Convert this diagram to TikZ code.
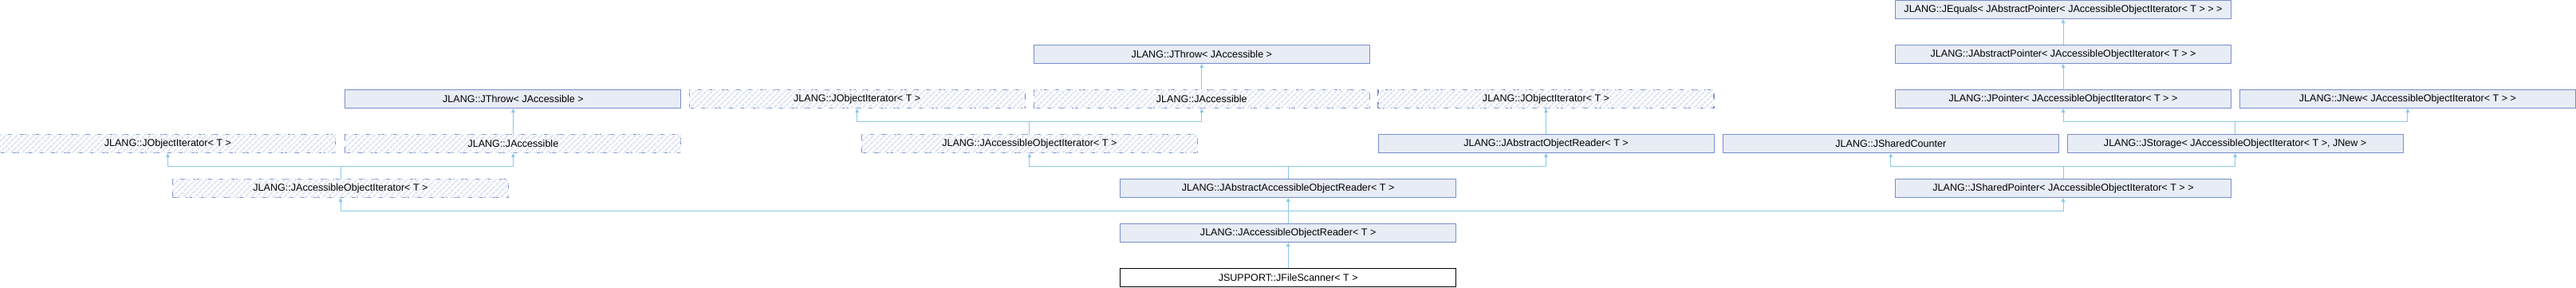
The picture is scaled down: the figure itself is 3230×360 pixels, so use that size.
\documentclass[tikz,border=0pt]{standalone}
\usepackage{fontspec}
\setmainfont{Liberation Sans}
\usetikzlibrary{arrows.meta,patterns.meta}
\definecolor{boxfill}{RGB}{232,236,245}
\definecolor{boxline}{RGB}{118,142,202}
\definecolor{edgecol}{RGB}{140,200,230}
\definecolor{hatchcol}{RGB}{225,231,243}
\tikzset{
  cls/.style={draw=boxline, fill=boxfill, line width=1bp, minimum width=421bp, minimum height=23bp, inner sep=0pt, font=\fontsize{12.6}{14}\selectfont},
  tmpl/.style={draw=boxline, fill=white, dash pattern=on 8bp off 8bp, line width=1.1bp, minimum width=421bp, minimum height=23bp, inner sep=0pt, font=\fontsize{12.6}{14}\selectfont,
    postaction={pattern={Lines[angle=45,distance=5.2bp,line width=2.6bp]}, pattern color=hatchcol}},
  self/.style={draw=black, fill=white, line width=1bp, minimum width=421bp, minimum height=23bp, inner sep=0pt, font=\fontsize{12.6}{14}\selectfont},
  edge/.style={draw=edgecol, line width=1bp, -{Triangle[width=4.5bp,length=5bp]}},
}
\begin{document}
\begin{tikzpicture}[x=1bp,y=-1bp]
\useasboundingbox (0,0) rectangle (3230,360);
% row 1
\node[cls] (equals) at (2587,12) {JLANG::JEquals< JAbstractPointer< JAccessibleObjectIterator< T > > >};
% row 2
\node[cls] (throwM) at (1506.8,68) {JLANG::JThrow< JAccessible >};
\node[cls] (absptr) at (2587,68) {JLANG::JAbstractPointer< JAccessibleObjectIterator< T > >};
% row 3
\node[cls] (throwL) at (643.4,124) {JLANG::JThrow< JAccessible >};
\node[tmpl] (objiterM) at (1074.7,124) {JLANG::JObjectIterator< T >};
\node[tmpl] (accessM) at (1506.8,124) {JLANG::JAccessible};
\node[tmpl] (objiterR) at (1938.5,124) {JLANG::JObjectIterator< T >};
\node[cls] (pointer) at (2587,124) {JLANG::JPointer< JAccessibleObjectIterator< T > >};
\node[cls] (jnew) at (3018.9,124) {JLANG::JNew< JAccessibleObjectIterator< T > >};
% row 4
\node[tmpl] (objiterL) at (210.4,180) {JLANG::JObjectIterator< T >};
\node[tmpl] (accessL) at (643.4,180) {JLANG::JAccessible};
\node[tmpl] (accobjiterM) at (1290.8,180) {JLANG::JAccessibleObjectIterator< T >};
\node[cls] (absobjreader) at (1938.5,180) {JLANG::JAbstractObjectReader< T >};
\node[cls] (sharedcounter) at (2370.8,180) {JLANG::JSharedCounter};
\node[cls] (storage) at (2802.6,180) {JLANG::JStorage< JAccessibleObjectIterator< T >, JNew >};
% row 5
\node[tmpl] (accobjiterL) at (427,236) {JLANG::JAccessibleObjectIterator< T >};
\node[cls] (absaccreader) at (1615.2,236) {JLANG::JAbstractAccessibleObjectReader< T >};
\node[cls] (sharedptr) at (2587,236) {JLANG::JSharedPointer< JAccessibleObjectIterator< T > >};
% row 6
\node[cls] (accreader) at (1615.2,292) {JLANG::JAccessibleObjectReader< T >};
% row 7
\node[self] (scanner) at (1615.2,348) {JSUPPORT::JFileScanner< T >};
% merge levels
\coordinate (m4) at (0,152.5);
\coordinate (m5) at (0,208.5);
\coordinate (m6) at (0,264.3);
% edges
\draw[edge] (absptr) -- (equals);
\draw[edge] (pointer) -- (absptr);
\draw[edge] (accessM) -- (throwM);
\draw[edge] (accessL) -- (throwL);
\draw[edge] (absobjreader) -- (objiterR);
\draw[edge] (scanner) -- (accreader);
\draw[edge] (accobjiterM.north) -- (accobjiterM.north |- m4) -| (objiterM.south);
\draw[edge] (accobjiterM.north) -- (accobjiterM.north |- m4) -| (accessM.south);
\draw[edge] (storage.north) -- (storage.north |- m4) -| (pointer.south);
\draw[edge] (storage.north) -- (storage.north |- m4) -| (jnew.south);
\draw[edge] (accobjiterL.north) -- (accobjiterL.north |- m5) -| (objiterL.south);
\draw[edge] (accobjiterL.north) -- (accobjiterL.north |- m5) -| (accessL.south);
\draw[edge] (absaccreader.north) -- (absaccreader.north |- m5) -| (accobjiterM.south);
\draw[edge] (absaccreader.north) -- (absaccreader.north |- m5) -| (absobjreader.south);
\draw[edge] (sharedptr.north) -- (sharedptr.north |- m5) -| (sharedcounter.south);
\draw[edge] (sharedptr.north) -- (sharedptr.north |- m5) -| (storage.south);
\draw[edge] (accreader.north) -- (accreader.north |- m6) -| (accobjiterL.south);
\draw[edge] (accreader.north) -- (accreader.north |- m6) -| (absaccreader.south);
\draw[edge] (accreader.north) -- (accreader.north |- m6) -| (sharedptr.south);
\end{tikzpicture}
\end{document}
